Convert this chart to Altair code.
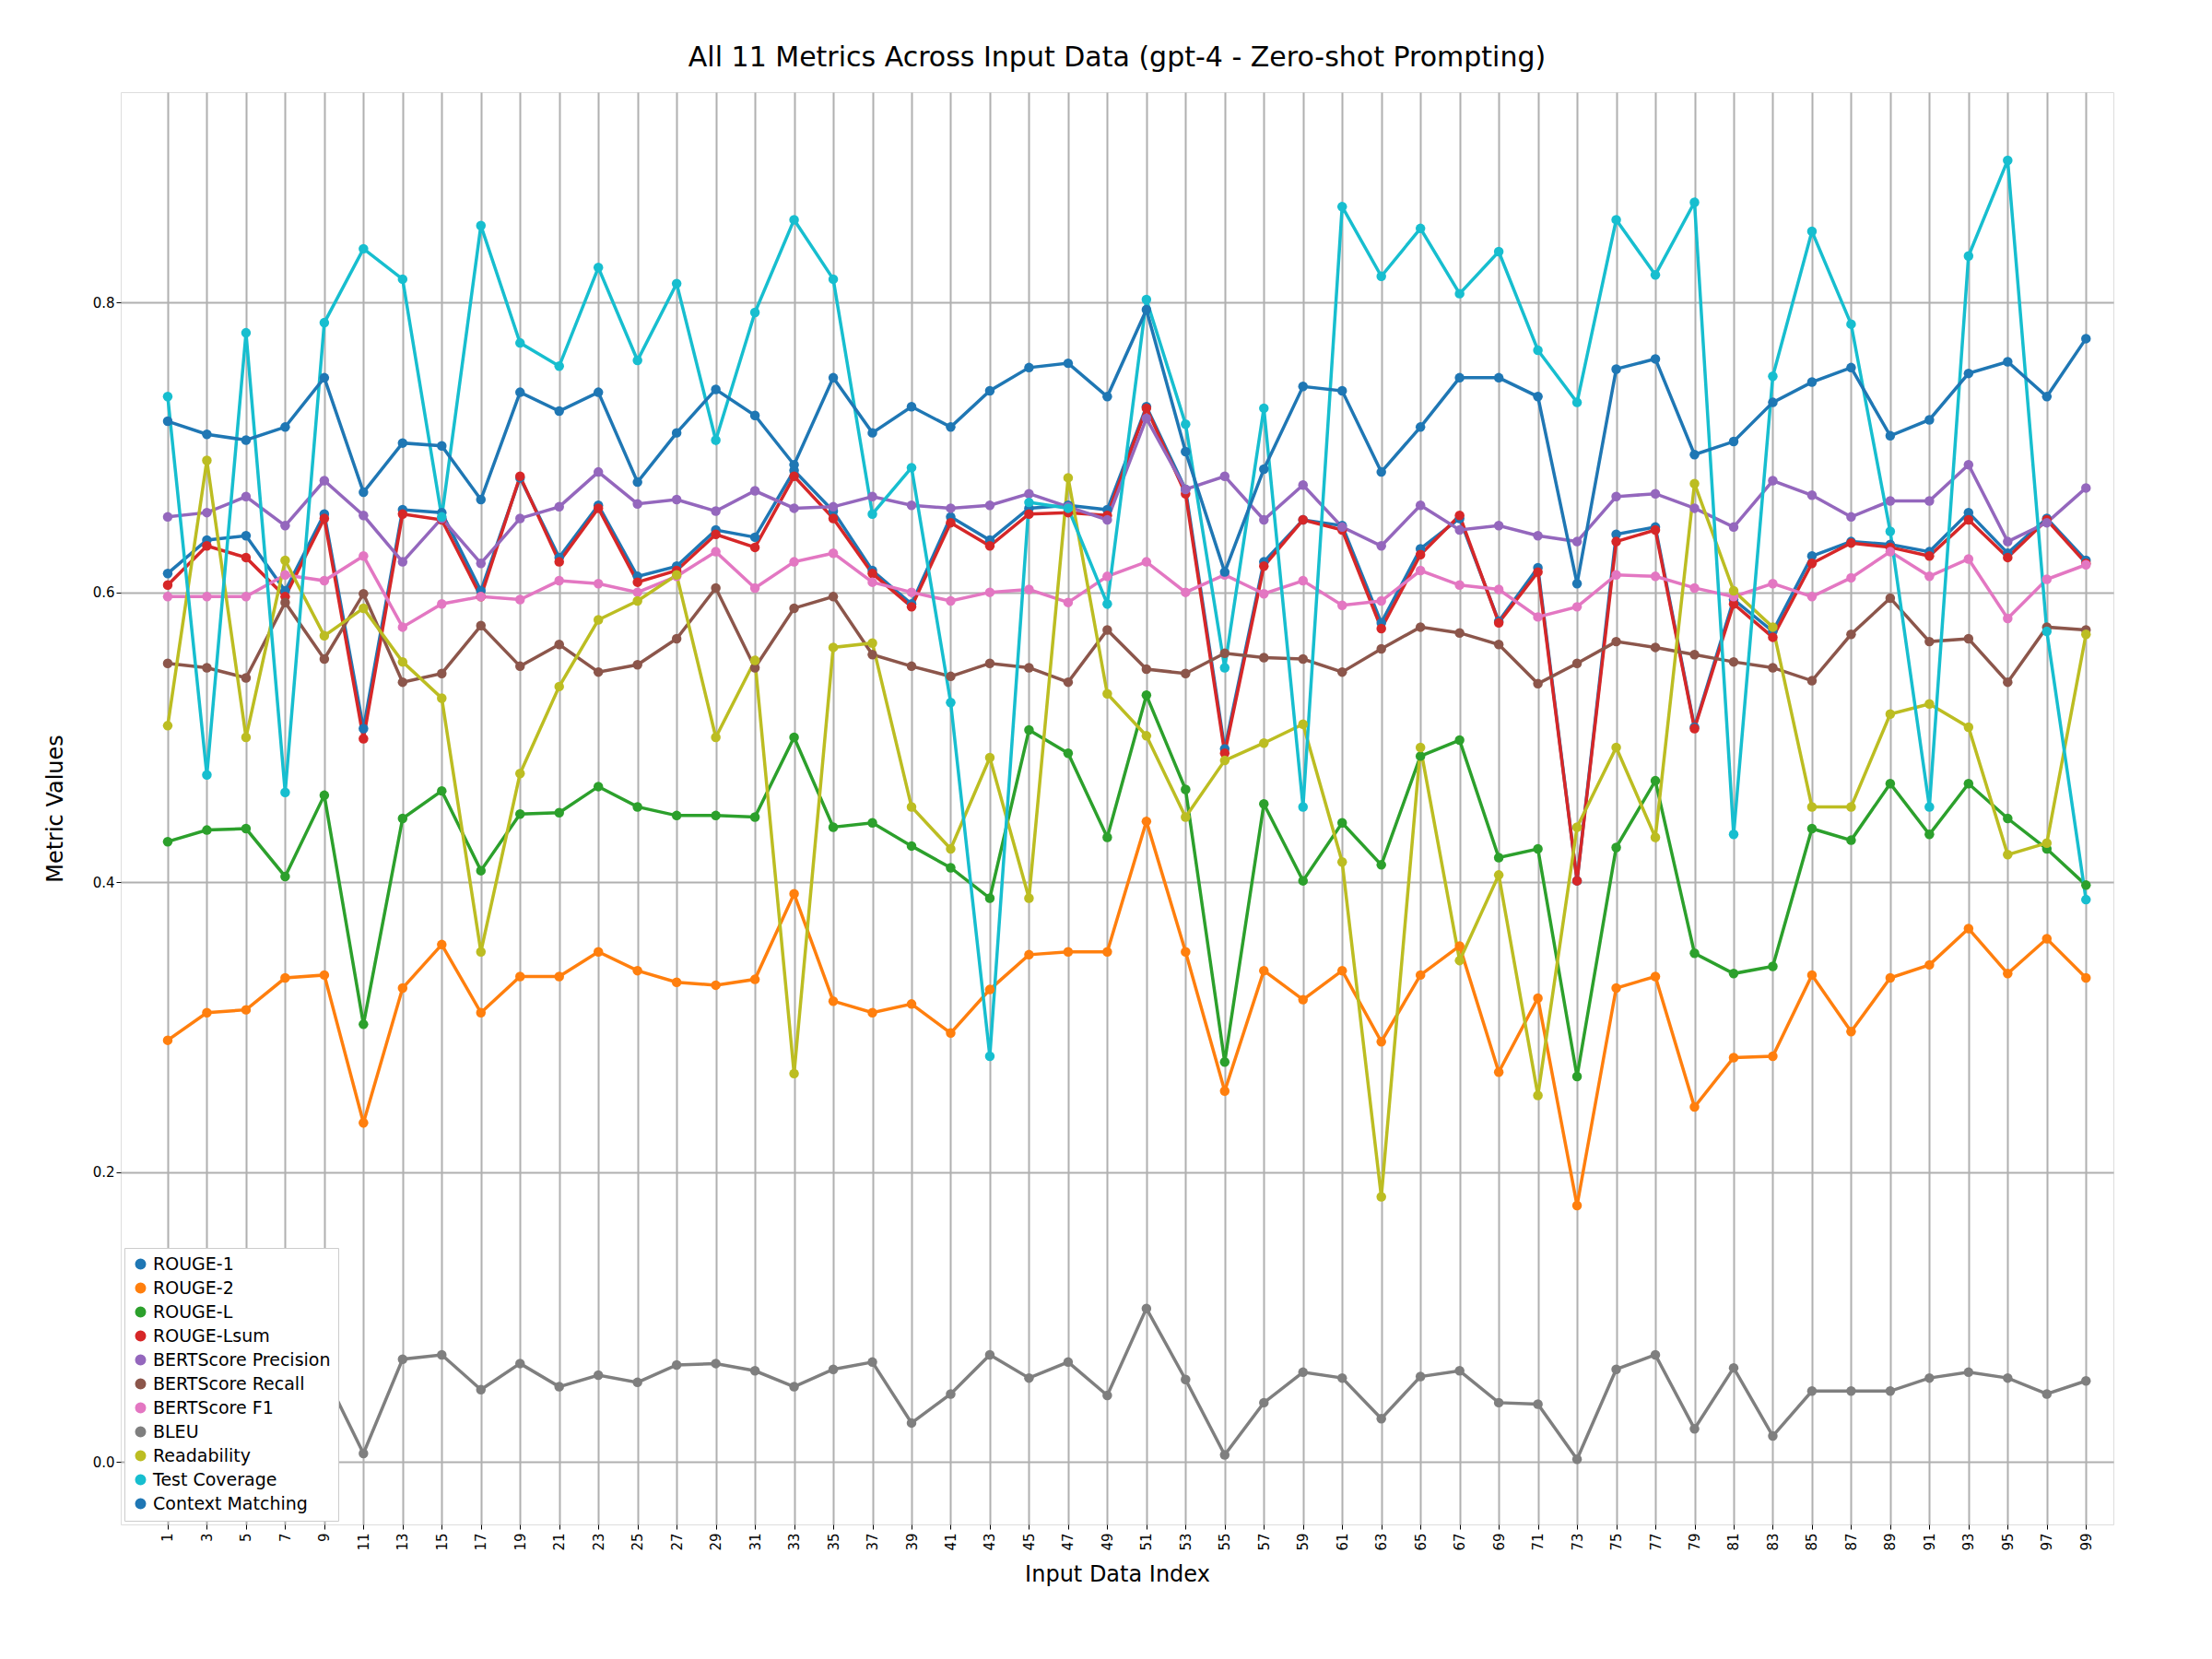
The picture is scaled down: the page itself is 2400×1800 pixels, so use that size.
import altair as alt
import pandas as pd

idx = list(range(1, 100, 2))

rouge1 = [0.613,0.636,0.639,0.601,0.654,0.506,0.657,0.655,0.601,0.679,0.624,0.660,0.611,0.618,0.643,0.638,0.684,0.656,0.615,0.592,0.652,0.636,0.658,0.660,0.657,0.728,0.671,0.492,0.621,0.650,0.646,0.579,0.630,0.651,0.580,0.617,0.401,0.640,0.645,0.507,0.595,0.573,0.625,0.635,0.633,0.628,0.655,0.627,0.651,0.622]
rouge2 = [0.291,0.310,0.312,0.334,0.336,0.234,0.327,0.357,0.310,0.335,0.335,0.352,0.339,0.331,0.329,0.333,0.392,0.318,0.310,0.316,0.296,0.326,0.350,0.352,0.352,0.442,0.352,0.256,0.339,0.319,0.339,0.290,0.336,0.356,0.269,0.320,0.177,0.327,0.335,0.245,0.279,0.280,0.336,0.297,0.334,0.343,0.368,0.337,0.361,0.334]
rougeL = [0.428,0.436,0.437,0.404,0.460,0.302,0.444,0.463,0.408,0.447,0.448,0.466,0.452,0.446,0.446,0.445,0.500,0.438,0.441,0.425,0.410,0.389,0.505,0.489,0.431,0.529,0.464,0.276,0.454,0.401,0.441,0.412,0.487,0.498,0.417,0.423,0.266,0.424,0.470,0.351,0.337,0.342,0.437,0.429,0.468,0.433,0.468,0.444,0.423,0.398]
rougeLsum = [0.605,0.632,0.624,0.597,0.651,0.499,0.654,0.650,0.597,0.680,0.621,0.658,0.607,0.615,0.640,0.631,0.680,0.651,0.613,0.590,0.648,0.632,0.654,0.655,0.653,0.727,0.668,0.489,0.618,0.650,0.643,0.575,0.626,0.653,0.579,0.614,0.401,0.635,0.643,0.506,0.592,0.569,0.620,0.634,0.631,0.625,0.650,0.624,0.650,0.620]
bert_p = [0.652,0.655,0.666,0.646,0.677,0.653,0.621,0.651,0.620,0.651,0.659,0.683,0.661,0.664,0.656,0.670,0.658,0.659,0.666,0.660,0.658,0.660,0.668,0.659,0.650,0.720,0.671,0.680,0.650,0.674,0.645,0.632,0.660,0.643,0.646,0.639,0.635,0.666,0.668,0.658,0.645,0.677,0.667,0.652,0.663,0.663,0.688,0.635,0.648,0.672]
bert_r = [0.551,0.548,0.541,0.593,0.554,0.599,0.538,0.544,0.577,0.549,0.564,0.545,0.550,0.568,0.603,0.548,0.589,0.597,0.557,0.549,0.542,0.551,0.548,0.538,0.574,0.547,0.544,0.558,0.555,0.554,0.545,0.561,0.576,0.572,0.564,0.537,0.551,0.566,0.562,0.557,0.552,0.548,0.539,0.571,0.596,0.566,0.568,0.538,0.576,0.574]
bert_f1 = [0.597,0.597,0.597,0.612,0.608,0.625,0.576,0.592,0.597,0.595,0.608,0.606,0.600,0.611,0.628,0.603,0.621,0.627,0.607,0.600,0.594,0.600,0.602,0.593,0.611,0.621,0.600,0.612,0.599,0.608,0.591,0.594,0.615,0.605,0.602,0.583,0.590,0.612,0.611,0.603,0.597,0.606,0.597,0.610,0.628,0.611,0.623,0.582,0.609,0.619]
bleu = [0.060,0.072,0.060,0.060,0.061,0.006,0.071,0.074,0.050,0.068,0.052,0.060,0.055,0.067,0.068,0.063,0.052,0.064,0.069,0.027,0.047,0.074,0.058,0.069,0.046,0.106,0.057,0.005,0.041,0.062,0.058,0.030,0.059,0.063,0.041,0.040,0.002,0.064,0.074,0.023,0.065,0.018,0.049,0.049,0.049,0.058,0.062,0.058,0.047,0.056]
readability = [0.508,0.691,0.500,0.622,0.570,0.589,0.552,0.527,0.352,0.475,0.535,0.581,0.594,0.612,0.500,0.553,0.268,0.562,0.565,0.452,0.423,0.486,0.389,0.679,0.530,0.501,0.445,0.484,0.496,0.509,0.414,0.183,0.493,0.346,0.405,0.253,0.438,0.493,0.431,0.675,0.601,0.576,0.452,0.452,0.516,0.523,0.507,0.419,0.427,0.571]
test_cov = [0.735,0.474,0.779,0.462,0.786,0.837,0.816,0.652,0.853,0.772,0.756,0.824,0.760,0.813,0.705,0.793,0.857,0.816,0.654,0.686,0.524,0.280,0.662,0.658,0.592,0.802,0.716,0.548,0.727,0.452,0.866,0.818,0.851,0.806,0.835,0.767,0.731,0.857,0.819,0.869,0.433,0.749,0.849,0.785,0.642,0.452,0.832,0.898,0.573,0.388]
context = [0.718,0.709,0.705,0.714,0.748,0.669,0.703,0.701,0.664,0.738,0.725,0.738,0.676,0.710,0.740,0.722,0.688,0.748,0.710,0.728,0.714,0.739,0.755,0.758,0.735,0.795,0.697,0.614,0.685,0.742,0.739,0.683,0.714,0.748,0.748,0.735,0.606,0.754,0.761,0.695,0.704,0.731,0.745,0.755,0.708,0.719,0.751,0.759,0.735,0.775]

names = ["ROUGE-1", "ROUGE-2", "ROUGE-L", "ROUGE-Lsum", "BERTScore Precision",
         "BERTScore Recall", "BERTScore F1", "BLEU", "Readability", "Test Coverage",
         "Context Matching"]
series = [rouge1, rouge2, rougeL, rougeLsum, bert_p, bert_r, bert_f1, bleu,
          readability, test_cov, context]
colors = ["#1f77b4", "#ff7f0e", "#2ca02c", "#d62728", "#9467bd", "#8c564b",
          "#e377c2", "#7f7f7f", "#bcbd22", "#17becf", "#1f77b4"]

rows = []
for k, (n, vals) in enumerate(zip(names, series)):
    for i, v in zip(idx, vals):
        rows.append({"Metric": n, "order": k, "Index": i, "Value": v})
df = pd.DataFrame(rows)

chart = alt.Chart(df).mark_line(
    strokeWidth=3.5, point=alt.OverlayMarkDef(size=110, filled=True, opacity=1)
).encode(
    x=alt.X("Index:Q", title="Input Data Index",
            scale=alt.Scale(domain=[-1.4, 100.4], nice=False, zero=False),
            axis=alt.Axis(values=idx, labelAngle=-90, labelFontSize=15, titleFontSize=24,
                          grid=True, gridColor="#b0b0b0", gridWidth=2, tickColor="black",
                          labelColor="black", titleColor="black", titleFontWeight="normal",
                          domain=False, labelPadding=4, titlePadding=14)),
    y=alt.Y("Value:Q", title="Metric Values",
            scale=alt.Scale(domain=[-0.043, 0.945], nice=False, zero=False),
            axis=alt.Axis(values=[0.0, 0.2, 0.4, 0.6, 0.8], format=".1f", labelFontSize=15,
                          titleFontSize=24, grid=True, gridColor="#b0b0b0", gridWidth=2,
                          tickColor="black", labelColor="black", titleColor="black",
                          titleFontWeight="normal", domain=False, titlePadding=28)),
    color=alt.Color("Metric:N", scale=alt.Scale(domain=names, range=colors),
                    sort=names,
                    legend=alt.Legend(title=None, orient="bottom-left", labelFontSize=19,
                                      labelLimit=0, symbolType="circle", symbolSize=110,
                                      strokeColor="#cccccc", fillColor="white",
                                      padding=8, rowPadding=6, labelColor="black",
                                      offset=4)),
    order=alt.Order("order:Q"),
    detail="Metric:N",
).properties(
    width=2162, height=1554,
    padding={"left": 40, "top": 40, "right": 5, "bottom": 5},
    title=alt.Title("All 11 Metrics Across Input Data (gpt-4 - Zero-shot Prompting)",
                    fontSize=30, fontWeight="normal", color="black", offset=22),
).configure_view(stroke="black", strokeWidth=2).configure(font="DejaVu Sans")

chart.save("out.html", embed_options={"renderer": "svg", "actions": False})
